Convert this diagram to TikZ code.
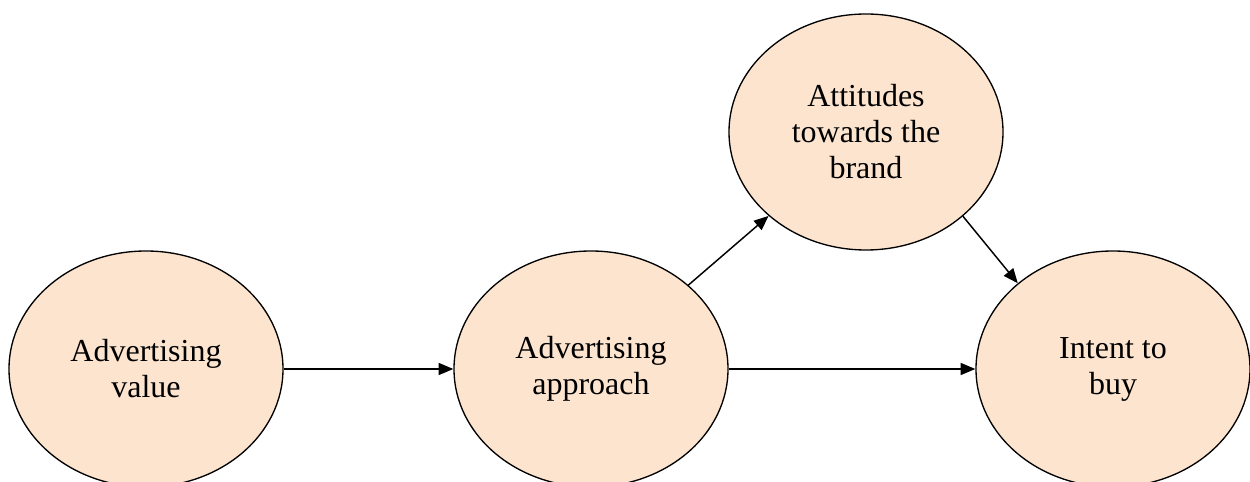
\documentclass[tikz,border=0pt]{standalone}
\usepackage{fontspec}
\setmainfont{Liberation Serif}
\usetikzlibrary{arrows.meta, shapes.geometric}
\definecolor{bubble}{HTML}{FCE4CF}
\begin{document}
\begin{tikzpicture}[x=0.75pt, y=0.75pt,
        factor/.style={ellipse, draw=black, line width=1pt, fill=bubble,
            minimum width=205.5pt, minimum height=177pt, inner sep=0pt,
            align=center, font=\fontsize{24}{27}\selectfont},
        link/.style={black, line width=1.1pt, -{Triangle[length=11pt, width=9pt]}}]
        \useasboundingbox (0,0) rectangle (1250,482);
        \clip (0,0) rectangle (1250,482);

        \node[factor] (value) at (146,113) {Advertising\\value};
        \node[factor] (approach) at (591,113) {Advertising\\approach};
        \node[factor] (attitude) at (866,350) {Attitudes\\towards the\\brand};
        \node[factor] (intent) at (1113,113) {Intent to\\buy};

        \draw[link] (value) -- (approach);
        \draw[link] (approach) -- (intent);
        \draw[link] (approach) -- (attitude);
        \draw[link] (attitude.-41) -- (intent.138.5);
    \end{tikzpicture}
\end{document}
